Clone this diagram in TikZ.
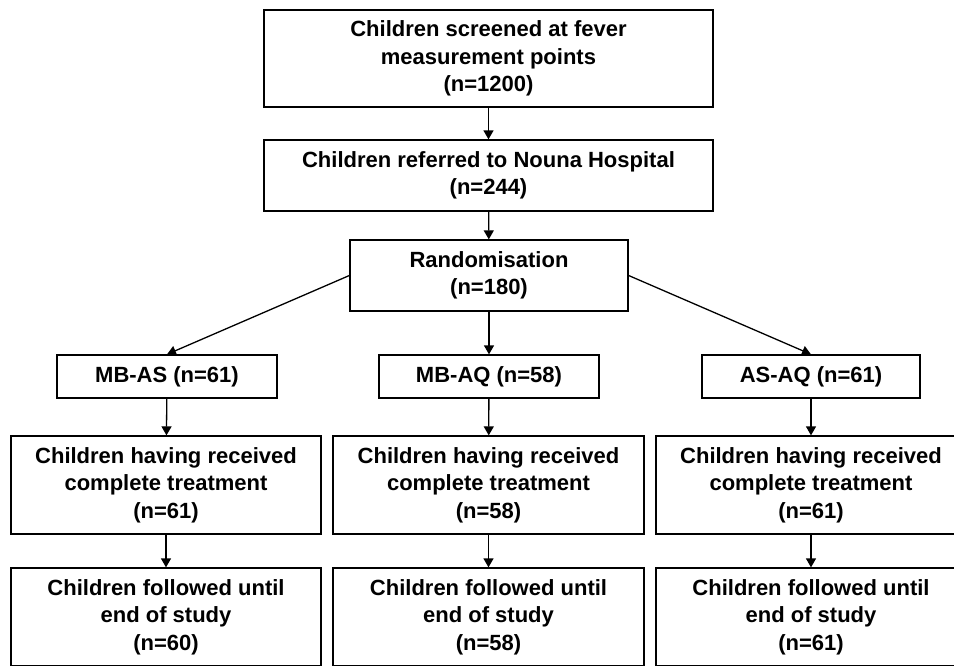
\documentclass[tikz,border=0pt]{standalone}
\usepackage{fontspec}
\setmainfont{Liberation Sans}
\usetikzlibrary{arrows.meta}

\begin{document}
\begin{tikzpicture}[x=1pt,y=-1pt,
    box/.style = {draw,
        line width=1.3pt,
        align=center,
        inner sep=0pt,
        font=\fontsize{22}{27.5}\selectfont\bfseries},
    link/.style = {line width=1.3pt,
        -{Triangle[width=10pt,length=9pt]}}]

\useasboundingbox (0,0) rectangle (954,665);

% Screening
\node[box,minimum width=449pt,minimum height=97pt] (screen) at (488.5,58.5)
    {Children screened at fever\\measurement points\\(n=1200)};

% Referral
\node[box,minimum width=449pt,minimum height=71pt] (refer) at (488.5,175.5)
    {Children referred to Nouna Hospital\\(n=244)};

% Randomisation
\node[box,minimum width=278pt,minimum height=71pt] (rand) at (489,275.5)
    {Randomisation\\(n=180)};

% Treatment arms
\node[box,minimum width=220pt,minimum height=43pt] (mbas) at (167,376.5) {MB-AS (n=61)};
\node[box,minimum width=220pt,minimum height=43pt] (mbaq) at (489,376.5) {MB-AQ (n=58)};
\node[box,minimum width=218pt,minimum height=43pt] (asaq) at (811,376.5) {AS-AQ (n=61)};

% Complete treatment
\node[box,minimum width=310pt,minimum height=98pt] (trtA) at (166,485)
    {Children having received\\complete treatment\\(n=61)};
\node[box,minimum width=311pt,minimum height=98pt] (trtB) at (488.5,485)
    {Children having received\\complete treatment\\(n=58)};
\node[box,minimum width=310pt,minimum height=98pt] (trtC) at (811,485)
    {Children having received\\complete treatment\\(n=61)};

% Follow-up
\node[box,minimum width=310pt,minimum height=98pt] (folA) at (166,617)
    {Children followed until\\end of study\\(n=60)};
\node[box,minimum width=311pt,minimum height=98pt] (folB) at (488.5,617)
    {Children followed until\\end of study\\(n=58)};
\node[box,minimum width=310pt,minimum height=98pt] (folC) at (811,617)
    {Children followed until\\end of study\\(n=61)};

% Arrows
\draw[link] (screen) -- (refer);
\draw[link] (refer) -- (rand);
\draw[link] (rand.west) -- (mbas.north);
\draw[link] (rand) -- (mbaq);
\draw[link] (rand.east) -- (asaq.north);
\foreach \c in {A,B,C} {
    \draw[link] (trt\c) -- (fol\c);
}
\draw[link] (mbas) -- (trtA);
\draw[link] (mbaq) -- (trtB);
\draw[link] (asaq) -- (trtC);
\end{tikzpicture}
\end{document}
